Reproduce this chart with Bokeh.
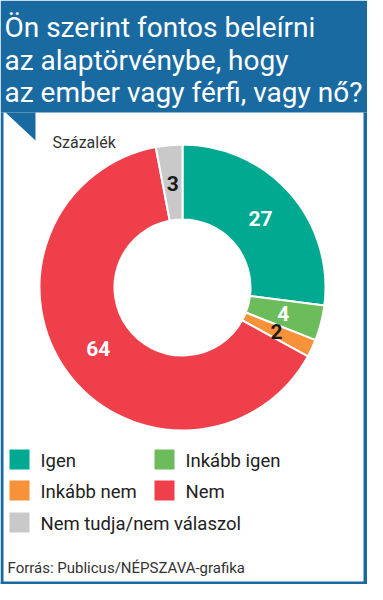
import numpy as np
from bokeh.plotting import figure
from bokeh.models import Range1d, ColumnDataSource
from bokeh.core.properties import value
from bokeh.embed import file_html
from bokeh.resources import INLINE

# ---- data ----
categories = ["Igen", "Inkább igen", "Inkább nem", "Nem", "Nem tudja/nem válaszol"]
values = [27, 4, 2, 64, 3]
colors = ["#00a98f", "#6cbc5c", "#f8923a", "#ee3f4b", "#c9c9c9"]
label_colors = ["white", "white", "#1a1a1a", "white", "#1a1a1a"]
title_lines = ["Ön szerint fontos beleírni", "az alaptörvénybe, hogy", "az ember vagy férfi, vagy nő?"]
unit_label = "Százalék"
source_label = "Forrás: Publicus/NÉPSZAVA-grafika"

FONT = "Roboto"
BLUE = "#1a6aa2"
W, H = 367, 584


def X(rx):
    return rx - 8


def Y(ry):
    return H + 8 - ry


p = figure(width=W, height=H, x_range=Range1d(0, W), y_range=Range1d(0, H),
           output_backend="svg", toolbar_location=None, min_border=0)
p.axis.visible = False
p.grid.visible = False
p.outline_line_color = None
p.background_fill_color = "white"
p.border_fill_color = "white"

# header + frame
p.quad(left=0, right=W, top=H, bottom=Y(120), fill_color=BLUE, line_color=None)
p.quad(left=0, right=3, top=Y(120), bottom=0, fill_color=BLUE, line_color=None)
p.quad(left=W - 4, right=W, top=Y(120), bottom=0, fill_color=BLUE, line_color=None)
p.quad(left=0, right=W, top=3, bottom=0, fill_color=BLUE, line_color=None)
p.patch(x=[X(13), X(43), X(43)], y=[Y(120), Y(120), Y(148)], fill_color=BLUE, line_color=None)

# title
p.text(x=[X(12)] * 3, y=[Y(35), Y(68), Y(100)], text=title_lines,
       text_color="white", text_font=value(FONT), text_font_size="28px",
       text_baseline="alphabetic", text_align="left")

p.text(x=[X(60)], y=[Y(150)], text=[unit_label], text_color="#333333",
       text_font=value(FONT), text_font_size="16px", text_baseline="alphabetic")

# donut
cx, cy = X(190), Y(295)
r_in, r_out = 68, 143
vals = np.array(values, dtype=float)
frac = vals / vals.sum()
ends = np.pi / 2 - 2 * np.pi * np.cumsum(frac)
starts = np.concatenate([[np.pi / 2], ends[:-1]])
src = ColumnDataSource(dict(start=ends, end=starts, color=colors))
p.annular_wedge(x=cx, y=cy, inner_radius=r_in, outer_radius=r_out,
                start_angle="start", end_angle="end", fill_color="color",
                line_color="white", line_width=2, source=src)

mid = (starts + ends) / 2
lr = 104
lsrc = ColumnDataSource(dict(x=cx + lr * np.cos(mid), y=cy + lr * np.sin(mid),
                             t=[str(v) for v in values], c=label_colors))
p.text(x="x", y="y", text="t", text_color="c", source=lsrc,
       text_font=value(FONT), text_font_size="21px", text_font_style="bold",
       text_align="center", text_baseline="middle")

# legend
leg_x = [X(27), X(172), X(27), X(172), X(27)]
leg_y = [Y(467), Y(467), Y(498), Y(498), Y(530)]
p.rect(x=leg_x, y=leg_y, width=20, height=20, fill_color=colors, line_color=None)
p.text(x=[x + 21 for x in leg_x], y=[y - 1 for y in leg_y], text=categories,
       text_color="#222222", text_font=value(FONT), text_font_size="18.5px",
       text_baseline="middle", text_align="left")

p.text(x=[X(15)], y=[Y(575)], text=[source_label], text_color="#333333",
       text_font=value(FONT), text_font_size="15px", text_baseline="alphabetic")

open("out.html", "w").write(file_html(p, INLINE))
